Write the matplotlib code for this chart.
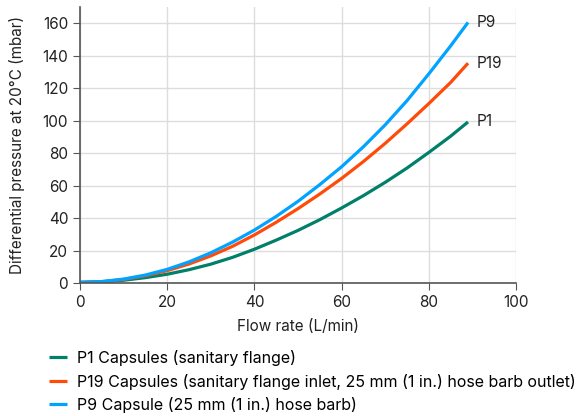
import matplotlib
matplotlib.use('Agg')
import matplotlib.pyplot as plt

plt.rcParams['font.family'] = ['Inter', 'DejaVu Sans']

# valores
flow = [0, 5, 10, 15, 20, 25, 30, 35, 40, 45, 50, 55, 60, 65, 70, 75, 80, 85, 89]
p1 = [0.4, 0.7, 1.7, 3.3, 5.4, 8.2, 11.6, 15.8, 20.8, 26.4, 32.4, 39, 46.2, 53.8, 62, 70.8, 80.4, 90.4, 99.2]
p19 = [0.3, 0.8, 2.2, 4.5, 7.6, 11.7, 16.7, 22.6, 29.6, 37.4, 45.8, 54.8, 64.4, 74.8, 86, 98, 110.5, 123.5, 135.4]
p9 = [0.4, 0.9, 2.4, 4.9, 8.4, 13, 18.6, 25.2, 32.6, 41, 50.3, 60.6, 71.6, 83.9, 97.4, 112.3, 128.8, 146, 160.5]

nomes = ['P1 Capsules (sanitary flange)',
         'P19 Capsules (sanitary flange inlet, 25 mm (1 in.) hose barb outlet)',
         'P9 Capsule (25 mm (1 in.) hose barb)']
rotulos = ['P1', 'P19', 'P9']
cores = ['#00806A', '#FF4B0A', '#00A3FF']
series = [p1, p19, p9]

fs = 11
fig = plt.figure(figsize=(5.81, 4.16), dpi=100)
ax = fig.add_axes([0.1377, 0.3197, 0.7504, 0.6635])

for y, nome, cor, rot in zip(series, nomes, cores, rotulos):
    ax.plot(flow, y, color=cor, lw=2.3, label=nome, solid_capstyle='butt')
    ax.text(flow[-1] + 2, y[-1], rot, va='center', ha='left', fontsize=fs, color='#222222')

ax.set_xlim(0, 100)
ax.set_ylim(0, 170)
ax.set_xticks([0, 20, 40, 60, 80, 100])
ax.set_yticks(range(0, 161, 20))
ax.grid(True, color='#dddddd', lw=1)
ax.set_axisbelow(True)
for s in ['top', 'right']:
    ax.spines[s].set_visible(False)
for s in ['left', 'bottom']:
    ax.spines[s].set_color('#555555')
    ax.spines[s].set_linewidth(1.2)
ax.tick_params(colors='#555555', labelcolor='#222222', labelsize=fs, length=5, pad=3.5)
ax.set_xlabel('Flow rate (L/min)', fontsize=fs, color='#222222')
ax.set_ylabel('Differential pressure at 20°C (mbar)', fontsize=fs, color='#222222')
ax.xaxis.set_label_coords(0.5, -0.156)
ax.xaxis.label.set_va('center')
ax.yaxis.set_label_coords(-0.1445, 0.5)
ax.yaxis.label.set_va('center')

fig.legend(loc='upper left', bbox_to_anchor=(0.074, 0.174), frameon=False, fontsize=11.5,
           handlelength=1.13, handletextpad=0.57, labelspacing=0.47, borderaxespad=0)

plt.savefig('out.png', dpi=100)
